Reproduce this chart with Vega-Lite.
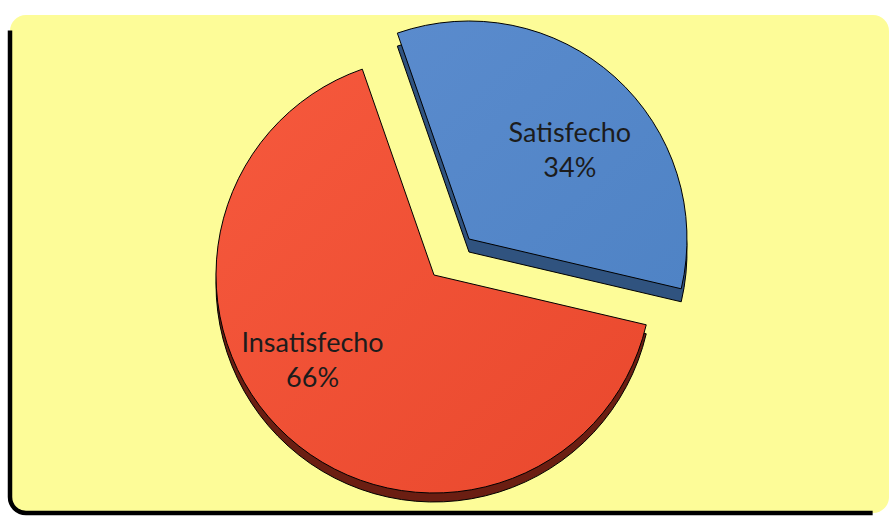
{
  "$schema": "https://vega.github.io/schema/vega-lite/v6.json",
  "width": 879,
  "height": 498,
  "padding": {"left": 10, "top": 15, "right": 0, "bottom": 3},
  "background": "white",
  "view": {"fill": "#FDFC98", "stroke": "black", "strokeWidth": 4.5, "cornerRadius": 16, "strokeDash": [0, 1363.3, 1338.1, 1000]},
  "data": {"values": [
    {"category": "Satisfecho", "value": 34},
    {"category": "Insatisfecho", "value": 66}
  ]},
  "transform": [{"calculate": "datum.category + '\\n' + datum.value + '%'", "as": "label"}],
  "encoding": {
    "theta": {"field": "value", "type": "quantitative", "stack": true, "scale": {"domain": [0, 100], "range": [-0.335, 5.948]}},
    "order": {"field": "value", "type": "quantitative", "sort": "ascending"}
  },
  "layer": [
    {
      "mark": {"type": "arc", "outerRadius": 218, "xOffset": -15.5, "yOffset": 20, "fill": "#6B1E12", "stroke": "black", "strokeWidth": 1},
      "encoding": {"opacity": {"condition": {"test": "datum.category === 'Insatisfecho'", "value": 1}, "value": 0}}
    },
    {
      "mark": {"type": "arc", "outerRadius": 218, "xOffset": -15.5, "yOffset": 11, "stroke": "black", "strokeWidth": 1,
        "fill": {"gradient": "linear", "x1": 0, "y1": 0, "x2": 1, "y2": 1, "stops": [{"offset": 0, "color": "#F6593D"}, {"offset": 1, "color": "#E9482D"}]}},
      "encoding": {"opacity": {"condition": {"test": "datum.category === 'Insatisfecho'", "value": 1}, "value": 0}}
    },
    {
      "mark": {"type": "arc", "outerRadius": 218, "xOffset": 19.5, "yOffset": -12, "fill": "#30537F", "stroke": "black", "strokeWidth": 1},
      "encoding": {"opacity": {"condition": {"test": "datum.category === 'Satisfecho'", "value": 1}, "value": 0}}
    },
    {
      "mark": {"type": "arc", "outerRadius": 218, "xOffset": 19.5, "yOffset": -25, "stroke": "black", "strokeWidth": 1,
        "fill": {"gradient": "linear", "x1": 0, "y1": 0, "x2": 1, "y2": 1, "stops": [{"offset": 0, "color": "#5A8BCD"}, {"offset": 1, "color": "#4F83C5"}]}},
      "encoding": {"opacity": {"condition": {"test": "datum.category === 'Satisfecho'", "value": 1}, "value": 0}}
    },
    {
      "mark": {"type": "text", "radius": 134, "thetaOffset": 0.119, "xOffset": 19.5, "yOffset": -42, "font": "Lato", "fontSize": 27, "lineBreak": "\n", "lineHeight": 35, "align": "center", "baseline": "middle", "color": "#1c1c1c"},
      "encoding": {
        "text": {"field": "label"},
        "opacity": {"condition": {"test": "datum.category === 'Satisfecho'", "value": 1}, "value": 0}
      }
    },
    {
      "mark": {"type": "text", "radius": 150, "thetaOffset": 0.222, "xOffset": -14.5, "yOffset": -6.5, "font": "Lato", "fontSize": 27, "lineBreak": "\n", "lineHeight": 35, "align": "center", "baseline": "middle", "color": "#1c1c1c"},
      "encoding": {
        "text": {"field": "label"},
        "opacity": {"condition": {"test": "datum.category === 'Insatisfecho'", "value": 1}, "value": 0}
      }
    }
  ]
}
